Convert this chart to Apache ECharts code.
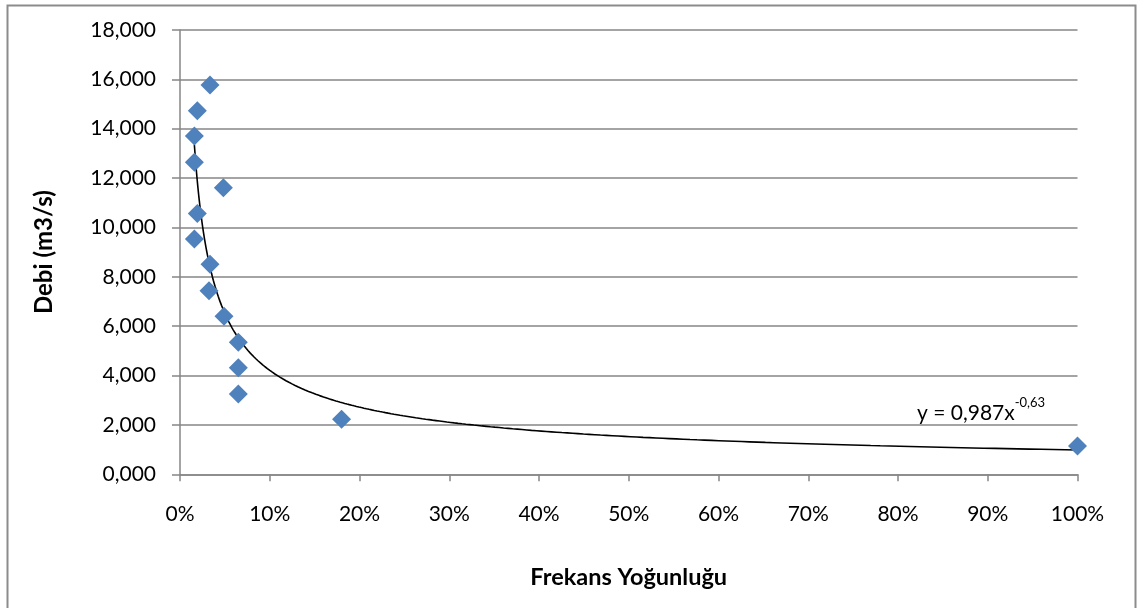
<!DOCTYPE html>
<html>
<head>
<meta charset="utf-8">
<script src="https://cdn.jsdelivr.net/npm/echarts@6/dist/echarts.min.js"></script>
<style>
  html, body { margin: 0; padding: 0; background: #fff; }
  #chart { width: 1137px; height: 608px; }
</style>
</head>
<body>
<div id="chart"></div>
<script>
// frequency share (0..1) and discharge (m3/s)
const freq = [0.0334, 0.0193, 0.016, 0.016, 0.0483, 0.0193, 0.016, 0.0334, 0.0323, 0.049, 0.065, 0.065, 0.065, 0.180, 1.0];
const debi = [15.77, 14.73, 13.71, 12.64, 11.61, 10.57, 9.53, 8.51, 7.44, 6.40, 5.35, 4.32, 3.25, 2.23, 1.15];

const yTicks = { min: 0, max: 18, step: 2 };
const xTicks = { min: 0, max: 1, step: 0.1 };

// power trendline as printed on the chart: y = 0,987 x^-0,63
const TREND_A = 0.987;
const TREND_B = -0.63;
const trendFrom = Math.min(...freq);
const trendTo = Math.max(...freq);

const trend = [];
for (let i = 0; i <= 300; i++) {
  const x = trendFrom * Math.pow(trendTo / trendFrom, i / 300);
  trend.push([x, TREND_A * Math.pow(x, TREND_B)]);
}

const points = freq.map((f, i) => [f, debi[i]]);

const font = 'Lato, "Open Sans", sans-serif';
const gray = '#868686';

const chart = echarts.init(document.getElementById('chart'), null, { renderer: 'canvas' });

chart.setOption({
  animation: false,
  backgroundColor: '#fff',
  textStyle: { fontFamily: font, color: '#000' },
  grid: { left: 180, right: 59.5, top: 30, bottom: 133.7, containLabel: false },
  xAxis: {
    type: 'value',
    min: xTicks.min,
    max: xTicks.max,
    interval: xTicks.step,
    name: 'Frekans Yoğunluğu',
    nameLocation: 'middle',
    nameGap: 91,
    nameTextStyle: { fontFamily: font, fontSize: 23.5, fontWeight: 'bold', color: '#000' },
    axisLine: { show: true, onZero: false, lineStyle: { color: gray, width: 1.5 } },
    axisTick: { show: true, inside: false, length: 7, lineStyle: { color: gray, width: 1.5 } },
    axisLabel: {
      margin: 29,
      fontSize: 21,
      color: '#000',
      fontFamily: font,
      formatter: (v) => Math.round(v * 100) + '%'
    },
    splitLine: { show: false }
  },
  yAxis: {
    type: 'value',
    min: yTicks.min,
    max: yTicks.max,
    interval: yTicks.step,
    name: 'Debi (m3/s)',
    nameLocation: 'middle',
    nameGap: 124,
    nameRotate: 90,
    nameTextStyle: { fontFamily: font, fontSize: 24, fontWeight: 'bold', color: '#000' },
    axisLine: { show: true, onZero: false, lineStyle: { color: gray, width: 1.5 } },
    axisTick: { show: true, inside: false, length: 8, lineStyle: { color: gray, width: 1.5 } },
    axisLabel: {
      margin: 24,
      fontSize: 21,
      color: '#000',
      fontFamily: font,
      formatter: (v) => v.toFixed(3).replace('.', ',')
    },
    splitLine: { show: true, lineStyle: { color: gray, width: 1.5 } }
  },
  graphic: [
    {
      type: 'rect',
      left: 5,
      top: 3,
      shape: { width: 1128, height: 640 },
      style: { fill: 'none', stroke: '#8c8c8c', lineWidth: 2 },
      silent: true,
      z: 100
    },
    {
      type: 'text',
      left: 917,
      top: 396,
      style: {
        text: '{m|y = 0,987x}{s|-0,63}',
        rich: {
          m: { fontFamily: font, fontSize: 21, color: '#000', lineHeight: 28, verticalAlign: 'bottom' },
          s: { fontFamily: font, fontSize: 13, color: '#000', lineHeight: 28, verticalAlign: 'top' }
        }
      },
      z: 100
    }
  ],
  series: [
    {
      name: 'Trend',
      type: 'line',
      data: trend,
      showSymbol: false,
      symbol: 'none',
      smooth: false,
      lineStyle: { color: '#000', width: 1.6 },
      z: 3,
      silent: true
    },
    {
      name: 'Debi',
      type: 'scatter',
      data: points,
      symbol: 'diamond',
      symbolSize: [19, 19],
      itemStyle: { color: '#4f81bd', opacity: 1 },
      z: 4
    }
  ]
});
</script>
</body>
</html>
